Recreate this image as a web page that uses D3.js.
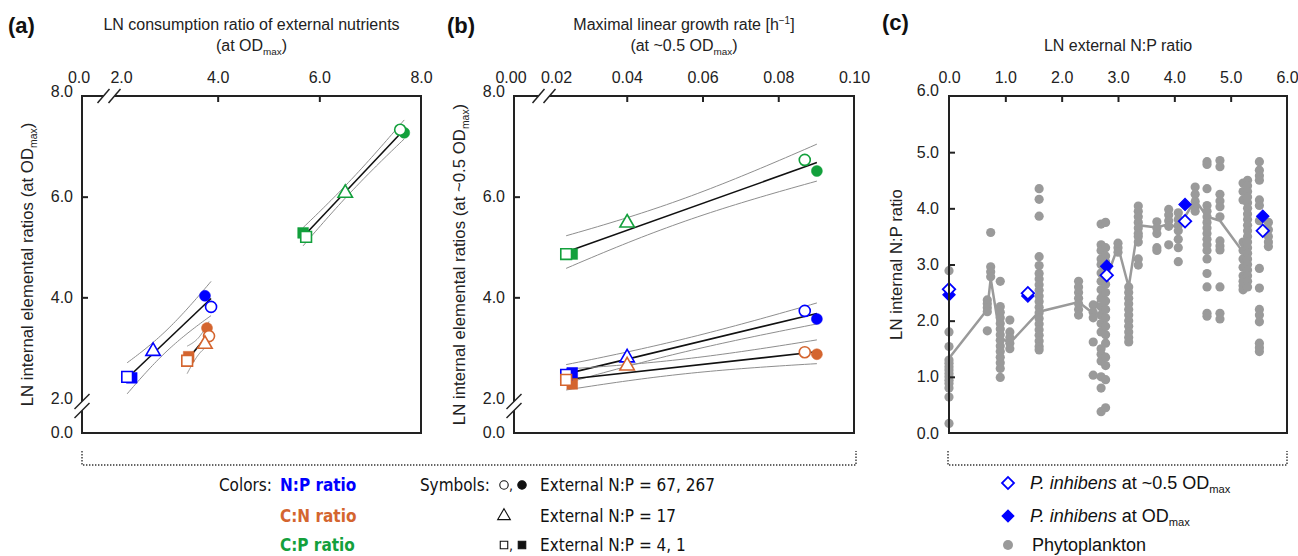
<!DOCTYPE html>
<html>
<head>
<meta charset="utf-8">
<script src="https://cdn.jsdelivr.net/npm/d3@7"></script>
<style>
  html, body { margin: 0; padding: 0; background: #fff; }
  svg { display: block; }
</style>
</head>
<body>
<div id="chart"></div>
<script>
// ---- data ----
const ratioNames = ['N:P ratio', 'C:N ratio', 'C:P ratio'];
// marker order: open circle, filled circle, open triangle, open square, filled square
const symbolOrder = ['circleOpen', 'circleFilled', 'triangleOpen', 'squareOpen', 'squareFilled'];

// (a) LN consumption ratio of external nutrients vs LN internal ratio, at OD max
const consumptionX = [
  [3.87, 3.75, 2.73, 2.22, 2.31],
  [3.83, 3.79, 3.75, 3.40, 3.43],
  [7.59, 7.67, 6.51, 5.74, 5.68]
];
const internalAtMax = [
  [3.81, 4.03, 2.93, 2.42, 2.40],
  [3.23, 3.39, 3.07, 2.74, 2.82],
  [7.33, 7.27, 6.07, 5.20, 5.28]
];

// (b) maximal linear growth rate vs LN internal ratio, at ~0.5 OD max
const growthRate = [0.0870, 0.0902, 0.0401, 0.0240, 0.0256];
const internalAtHalf = [
  [3.73, 3.57, 2.80, 2.46, 2.50],
  [2.91, 2.87, 2.64, 2.36, 2.28],
  [6.73, 6.51, 5.48, 4.86, 4.86]
];

// (c) phytoplankton groups: LN external N:P and internal N:P values
const phytoX = [0.00, 0.68, 0.74, 0.91, 1.08, 1.60, 2.30, 2.56, 2.70, 2.78, 3.00, 3.19, 3.36,
  3.69, 3.90, 4.07, 4.37, 4.58, 4.81, 5.22, 5.30, 5.51, 5.67];
const phytoY = [
  [2.89, 1.80, 1.54, 1.30, 1.24, 1.18, 1.12, 1.06, 1.00, 0.94, 0.88, 0.80, 0.64, 0.17],
  [2.37, 2.30, 2.23, 2.16, 1.82],
  [3.57, 2.96, 2.87, 2.78],
  [2.70, 2.25, 2.15, 2.05, 1.95, 1.85, 1.75, 1.65, 1.55, 1.45, 1.35, 1.25, 1.15, 0.99],
  [2.01, 1.80, 1.70, 1.60, 1.50],
  [4.35, 4.16, 3.86, 3.14, 2.98, 2.84, 2.74, 2.64, 2.54, 2.44, 2.34, 2.24, 2.14, 2.04, 1.94, 1.84, 1.74, 1.64, 1.54, 1.48],
  [2.70, 2.60, 2.50, 2.40, 2.30, 2.20, 2.10],
  [2.28, 2.15, 2.05, 1.62, 1.03],
  [3.72, 3.35, 3.25, 3.10, 3.00, 2.85, 2.70, 2.55, 2.40, 2.25, 2.10, 1.95, 1.80, 1.50, 1.40, 1.28, 1.00, 0.80, 0.38],
  [3.75, 3.30, 3.15, 3.05, 2.95, 2.80, 2.65, 2.50, 2.35, 2.20, 2.05, 1.90, 1.75, 1.60, 1.35, 1.20, 0.95, 0.45],
  [3.38, 3.30, 3.22],
  [2.60, 2.50, 2.40, 2.30, 2.20, 2.10, 2.00, 1.90, 1.80, 1.70, 1.62],
  [4.04, 3.95, 3.85, 3.75, 3.65, 3.55, 3.50, 3.40, 3.10, 2.99],
  [3.76, 3.65, 3.55, 3.30, 3.25],
  [3.98, 3.88, 3.78, 3.68, 3.35],
  [3.92, 3.80, 3.70, 3.60, 3.45, 3.30, 3.05],
  [4.38, 4.25, 4.12, 4.03, 3.95],
  [4.83, 4.78, 4.35, 4.05, 3.95, 3.85, 3.75, 3.65, 3.55, 3.45, 3.35, 3.25, 3.10, 2.84, 2.60, 2.13, 2.08],
  [4.85, 4.74, 4.25, 4.13, 4.03, 3.85, 3.42, 3.33, 3.26, 2.60, 2.13, 2.03],
  [4.45, 4.30, 4.15, 3.40, 3.25, 3.10, 2.95, 2.80, 2.70, 2.62, 2.55],
  [4.50, 4.40, 4.30, 4.20, 4.10, 4.00, 3.90, 3.80, 3.70, 3.60, 3.50, 3.40, 3.30, 3.20, 3.10, 3.00, 2.90, 2.80, 2.70, 2.60],
  [4.83, 4.68, 4.58, 4.50, 4.15, 4.05, 3.78, 2.93, 2.58, 2.20, 2.10, 1.98, 1.60, 1.52, 1.45],
  [3.75, 3.62, 3.50, 3.40, 3.32]
];
// gray line through the phytoplankton groups
const phytoLineX = [0.00, 0.68, 0.74, 0.91, 1.08, 1.60, 2.30, 2.56, 2.74, 3.00, 3.19, 3.36, 3.69, 3.90, 4.07, 4.37, 4.58, 4.81, 5.22, 5.30];
const phytoLineY = [1.33, 2.20, 2.75, 1.70, 1.60, 2.16, 2.33, 2.13, 2.60, 3.32, 2.60, 3.70, 3.66, 3.72, 3.65, 4.15, 3.85, 3.78, 3.22, 3.30];

// P. inhibens
const inhibensX = [0.00, 1.40, 2.80, 4.19, 5.57];
const inhibensHalf = [2.56, 2.49, 2.81, 3.77, 3.60];
const inhibensMax = [2.46, 2.44, 2.97, 4.07, 3.86];

// ticks
const aXTicks = [2, 4, 6, 8];
const bXTicks = [0.02, 0.04, 0.06, 0.08, 0.10];
const abYTicks = [2, 4, 6, 8];
const cTicks = [0, 1, 2, 3, 4, 5, 6];

const T975_DF3 = 3.182;

// ---- style ----
const W = 1298, H = 556;
const font = "'Liberation Sans', Arimo, Arial, sans-serif";
const narrow = "'Liberation Sans Narrow', 'Arial Narrow', 'DejaVu Sans Condensed', 'Liberation Sans', sans-serif";
const colors = ['#0000ff', '#d4652f', '#13a03c'];
const gray = '#9a9a9a';
const ink = '#222';
const tickFont = 16, titleFont = 16, yTitleFont = 16.8;

const svg = d3.select('#chart').append('svg')
  .attr('width', W).attr('height', H)
  .style('font-family', font);

function odText(sel, before, after) {
  sel.append('tspan').text(before + 'OD');
  sel.append('tspan').attr('font-size', '0.62em').attr('dy', 4).text('max');
  sel.append('tspan').attr('dy', -4).text(after);
}

function styleAxis(s) {
  s.select('.domain').remove();
  s.attr('font-size', tickFont).attr('font-family', font);
  s.selectAll('text').attr('fill', ink);
  s.selectAll('line').attr('stroke', ink).attr('stroke-width', 2);
}

function topBreak(g, cx, y) {
  const d = 5.5;
  g.append('polygon')
    .attr('points', [[cx - d - 6, y + 7], [cx - d + 6, y - 7], [cx + d + 6, y - 7], [cx + d - 6, y + 7]].join(' '))
    .attr('fill', '#fff');
  [-d, d].forEach(o => g.append('line')
    .attr('x1', cx + o - 6).attr('y1', y + 7).attr('x2', cx + o + 6).attr('y2', y - 7)
    .attr('stroke', ink).attr('stroke-width', 1.5));
}

function leftBreak(g, x, cy) {
  const d = 4.5;
  g.append('polygon')
    .attr('points', [[x - 7.5, cy - d + 7.5], [x + 7.5, cy - d - 7.5], [x + 7.5, cy + d - 7.5], [x - 7.5, cy + d + 7.5]].join(' '))
    .attr('fill', '#fff');
  [-d, d].forEach(o => g.append('line')
    .attr('x1', x - 7.5).attr('y1', cy + o + 7.5).attr('x2', x + 7.5).attr('y2', cy + o - 7.5)
    .attr('stroke', ink).attr('stroke-width', 1.5));
}

function symbolPath(key, size) {
  const type = key.startsWith('circle') ? d3.symbolCircle
    : key.startsWith('triangle') ? d3.symbolTriangle : d3.symbolSquare;
  return d3.symbol().type(type).size(size)();
}
const symbolSize = { circle: 95, triangle: 90, square: 115 };

function regression(xs, ys) {
  const n = xs.length;
  const mx = d3.mean(xs), my = d3.mean(ys);
  const sxx = d3.sum(xs, x => (x - mx) ** 2);
  const sxy = d3.sum(xs, (x, i) => (x - mx) * (ys[i] - my));
  const b = sxy / sxx, a = my - b * mx;
  const sse = d3.sum(xs, (x, i) => (ys[i] - a - b * x) ** 2);
  const s = Math.sqrt(sse / (n - 2));
  return { a, b, half: x => T975_DF3 * s * Math.sqrt(1 / n + (x - mx) ** 2 / sxx) };
}

function scatterPanel(opt) {
  const { box, x, y, xs, ys } = opt;
  const g = svg.append('g');

  // regression lines with confidence bands
  ys.forEach((series, k) => {
    const xv = Array.isArray(xs[0]) ? xs[k] : xs;
    const fit = regression(xv, series);
    const [lo, hi] = d3.extent(xv);
    const grid = d3.range(0, 41).map(i => lo + (hi - lo) * i / 40);
    const line = d3.line().x(d => x(d[0])).y(d => y(d[1]));
    g.append('path').datum(grid.map(v => [v, fit.a + fit.b * v + fit.half(v)]))
      .attr('d', line).attr('fill', 'none').attr('stroke', '#8e8e8e').attr('stroke-width', 1);
    g.append('path').datum(grid.map(v => [v, fit.a + fit.b * v - fit.half(v)]))
      .attr('d', line).attr('fill', 'none').attr('stroke', '#8e8e8e').attr('stroke-width', 1);
    g.append('path').datum([lo, hi].map(v => [v, fit.a + fit.b * v]))
      .attr('d', line).attr('fill', 'none').attr('stroke', '#111').attr('stroke-width', 1.6);
  });

  // markers: filled first, open on top
  const pts = [];
  ys.forEach((series, k) => series.forEach((v, i) => {
    const xv = Array.isArray(xs[0]) ? xs[k][i] : xs[i];
    pts.push({ k, key: symbolOrder[i], x: xv, y: v });
  }));
  pts.sort((p, q) => (p.key.endsWith('Open') ? 1 : 0) - (q.key.endsWith('Open') ? 1 : 0));
  g.selectAll('path.mark').data(pts).join('path')
    .attr('class', 'mark')
    .attr('transform', d => `translate(${x(d.x)},${y(d.y)})`)
    .attr('d', d => symbolPath(d.key, symbolSize[d.key.replace(/Open|Filled/, '')]))
    .attr('fill', d => d.key.endsWith('Open') ? '#fff' : colors[d.k])
    .attr('stroke', d => colors[d.k])
    .attr('stroke-width', d => d.key.endsWith('Open') ? 1.6 : 0.5);

  // frame
  g.append('rect').attr('x', box.l).attr('y', box.t)
    .attr('width', box.r - box.l).attr('height', box.b - box.t)
    .attr('fill', 'none').attr('stroke', ink).attr('stroke-width', 2);

  // axes
  g.append('g').attr('transform', `translate(0,${box.t})`)
    .call(d3.axisTop(x).tickValues(opt.xTicks).tickFormat(opt.xFmt).tickSize(-6).tickPadding(13))
    .call(styleAxis)
    .call(s => s.selectAll('.tick').filter((d, i) => i === 0 || i === opt.xTicks.length - 1).select('line').remove())
    .call(s => s.selectAll('.tick').filter((d, i) => i === 0).select('text').attr('dx', 5));
  g.append('text').attr('x', box.l - 3).attr('y', box.t - 13)
    .attr('text-anchor', 'middle').attr('font-size', tickFont).attr('fill', ink).text(opt.xZero);

  g.append('g').attr('transform', `translate(${box.l},0)`)
    .call(d3.axisLeft(y).tickValues(abYTicks).tickFormat(d3.format('.1f')).tickSize(-6).tickPadding(9))
    .call(styleAxis)
    .call(s => s.selectAll('.tick').filter((d, i) => i === 0 || i === abYTicks.length - 1).select('line').remove())
    .call(s => s.selectAll('.tick').filter((d, i) => i === abYTicks.length - 1).select('text').attr('dy', '0.05em'));
  g.append('text').attr('x', box.l - 9).attr('y', box.b).attr('dy', '0.32em')
    .attr('text-anchor', 'end').attr('font-size', tickFont).attr('fill', ink).text('0.0');

  topBreak(g, x(opt.xTicks[0]) - 7, box.t);
  leftBreak(g, box.l, y(2) + 8);

  // titles
  const cx = (box.l + box.r) / 2;
  opt.title(g.append('text').attr('x', cx).attr('y', 30).attr('text-anchor', 'middle').attr('font-size', titleFont).attr('fill', ink));
  odText(g.append('text').attr('x', cx).attr('y', 51).attr('text-anchor', 'middle').attr('font-size', titleFont).attr('fill', ink), opt.sub, ')');
  odText(g.append('text').attr('transform', `translate(${opt.yTitleX},${(box.t + box.b) / 2}) rotate(-90)`)
    .attr('text-anchor', 'middle').attr('font-size', yTitleFont).attr('fill', ink), opt.yTitle, ')');
  g.append('text').attr('x', opt.labelX).attr('y', 33).attr('font-size', 22).attr('font-weight', 'bold').attr('fill', '#111').text(opt.label);
}

const yAB = d3.scaleLinear().domain([2, 8]).range([398, 96]);

scatterPanel({
  box: { l: 82, r: 421, t: 96, b: 433 },
  x: d3.scaleLinear().domain([2, 8]).range([116, 421]),
  y: yAB, xs: consumptionX, ys: internalAtMax,
  xTicks: aXTicks, xFmt: d3.format('.1f'), xZero: '0.0',
  title: t => t.text('LN consumption ratio of external nutrients'),
  sub: '(at ', yTitle: 'LN internal elemental ratios (at ', yTitleX: 33,
  label: '(a)', labelX: 8
});

scatterPanel({
  box: { l: 514, r: 854, t: 96, b: 433 },
  x: d3.scaleLinear().domain([0.02, 0.10]).range([551, 854]),
  y: yAB, xs: growthRate, ys: internalAtHalf,
  xTicks: bXTicks, xFmt: d3.format('.2f'), xZero: '0.00',
  title: t => {
    t.append('tspan').text('Maximal linear growth rate [h');
    t.append('tspan').attr('font-size', 10).attr('dy', -6).text('\u22121');
    t.append('tspan').attr('dy', 6).text(']');
  },
  sub: '(at ~0.5 ', yTitle: 'LN internal elemental ratios (at ~0.5 ', yTitleX: 465,
  label: '(b)', labelX: 447
});

// ---- panel (c) ----
(function () {
  const box = { l: 949, r: 1287, t: 96, b: 433 };
  const x = d3.scaleLinear().domain([0, 6]).range([box.l, box.r]);
  const y = d3.scaleLinear().domain([0, 6]).range([box.b, box.t]);
  const g = svg.append('g');

  g.append('path')
    .datum(phytoLineX.map((v, i) => [v, phytoLineY[i]]))
    .attr('d', d3.line().x(d => x(d[0])).y(d => y(d[1])))
    .attr('fill', 'none').attr('stroke', gray).attr('stroke-width', 2.5);

  const pts = phytoX.flatMap((v, i) => phytoY[i].map(w => [v, w]));
  g.selectAll('circle.phyto').data(pts).join('circle')
    .attr('class', 'phyto')
    .attr('cx', d => x(d[0])).attr('cy', d => y(d[1])).attr('r', 4.6)
    .attr('fill', gray);

  const diamond = d3.symbol().type(d3.symbolSquare).size(78)();
  g.selectAll('path.dmax').data(inhibensX).join('path')
    .attr('class', 'dmax')
    .attr('transform', (d, i) => `translate(${x(d)},${y(inhibensMax[i])}) rotate(45)`)
    .attr('d', diamond).attr('fill', '#0000ff').attr('stroke', '#0000ff').attr('stroke-width', 1);
  g.selectAll('path.dhalf').data(inhibensX).join('path')
    .attr('class', 'dhalf')
    .attr('transform', (d, i) => `translate(${x(d)},${y(inhibensHalf[i])}) rotate(45)`)
    .attr('d', diamond).attr('fill', '#fff').attr('stroke', '#0000ff').attr('stroke-width', 1.8);

  g.append('rect').attr('x', box.l).attr('y', box.t)
    .attr('width', box.r - box.l).attr('height', box.b - box.t)
    .attr('fill', 'none').attr('stroke', ink).attr('stroke-width', 2);

  g.append('g').attr('transform', `translate(0,${box.t})`)
    .call(d3.axisTop(x).tickValues(cTicks).tickFormat(d3.format('.1f')).tickSize(-6).tickPadding(13))
    .call(styleAxis)
    .call(s => s.selectAll('.tick').filter((d, i) => i === 0 || i === cTicks.length - 1).select('line').remove());
  g.append('g').attr('transform', `translate(${box.l},0)`)
    .call(d3.axisLeft(y).tickValues(cTicks).tickFormat(d3.format('.1f')).tickSize(-6).tickPadding(10))
    .call(styleAxis)
    .call(s => s.selectAll('.tick').filter((d, i) => i === 0 || i === cTicks.length - 1).select('line').remove())
    .call(s => s.selectAll('.tick').filter((d, i) => i === cTicks.length - 1).select('text').attr('dy', '-0.05em'));

  g.append('text').attr('x', (box.l + box.r) / 2).attr('y', 51).attr('text-anchor', 'middle')
    .attr('font-size', titleFont).attr('fill', ink).text('LN external N:P ratio');
  g.append('text').attr('transform', `translate(902,${(box.t + box.b) / 2}) rotate(-90)`)
    .attr('text-anchor', 'middle').attr('font-size', yTitleFont).attr('fill', ink).text('LN internal N:P ratio');
  g.append('text').attr('x', 882).attr('y', 30).attr('font-size', 22).attr('font-weight', 'bold').attr('fill', '#111').text('(c)');
})();

// ---- brackets ----
function bracket(x1, x2, y, top) {
  const p = d3.path();
  p.moveTo(x1, top); p.lineTo(x1, y); p.lineTo(x2, y); p.lineTo(x2, top);
  svg.append('path').attr('d', p.toString()).attr('fill', 'none')
    .attr('stroke', '#333').attr('stroke-width', 1.4).attr('stroke-dasharray', '1.4,1.6');
}
bracket(82, 856, 465, 451);
bracket(948, 1287, 465, 451);

// ---- legend (a, b) ----
(function () {
  const g = svg.append('g').attr('font-family', narrow).attr('font-size', 17).attr('fill', '#111');
  const rows = [491, 522, 551];
  g.append('text').attr('x', 272).attr('y', rows[0]).attr('text-anchor', 'end').text('Colors:');
  ratioNames.forEach((r, i) => g.append('text').attr('x', 280).attr('y', rows[i])
    .attr('font-weight', 'bold').attr('fill', colors[i]).text(r));
  g.append('text').attr('x', 490).attr('y', rows[0]).attr('text-anchor', 'end').text('Symbols:');
  const sym = [['circleOpen', 'circleFilled'], ['triangleOpen'], ['squareOpen', 'squareFilled']];
  const lbl = ['External N:P = 67, 267', 'External N:P = 17', 'External N:P = 4, 1'];
  sym.forEach((pair, i) => {
    const cy = rows[i] - 6;
    if (pair.length > 1) g.append('text').attr('x', 509).attr('y', rows[i] - 1).attr('font-size', 14).text(',');
    pair.forEach((key, j) => {
      g.append('path').attr('transform', `translate(${504 + j * 18},${cy})`)
        .attr('d', symbolPath(key, key.startsWith('triangle') ? 70 : 56))
        .attr('fill', key.endsWith('Open') ? '#fff' : '#111')
        .attr('stroke', '#111').attr('stroke-width', 1.1);
    });
    g.append('text').attr('x', 540).attr('y', rows[i]).text(lbl[i]);
  });
})();

// ---- legend (c) ----
(function () {
  const g = svg.append('g').attr('font-size', 18).attr('fill', '#111');
  const rows = [489, 522, 551];
  const diamond = d3.symbol().type(d3.symbolSquare).size(72)();
  g.append('path').attr('transform', `translate(1008,${rows[0] - 6}) rotate(45)`).attr('d', diamond)
    .attr('fill', '#fff').attr('stroke', '#0000ff').attr('stroke-width', 1.8);
  g.append('path').attr('transform', `translate(1008,${rows[1] - 6}) rotate(45)`).attr('d', diamond)
    .attr('fill', '#0000ff').attr('stroke', '#0000ff');
  g.append('circle').attr('cx', 1008).attr('cy', rows[2] - 6).attr('r', 5).attr('fill', gray);
  const t1 = g.append('text').attr('x', 1030).attr('y', rows[0]);
  t1.append('tspan').attr('font-style', 'italic').text('P. inhibens');
  odText(t1, ' at ~0.5 ', '');
  const t2 = g.append('text').attr('x', 1030).attr('y', rows[1]);
  t2.append('tspan').attr('font-style', 'italic').text('P. inhibens');
  odText(t2, ' at ', '');
  g.append('text').attr('x', 1032).attr('y', rows[2]).text('Phytoplankton');
})();
</script>
</body>
</html>
